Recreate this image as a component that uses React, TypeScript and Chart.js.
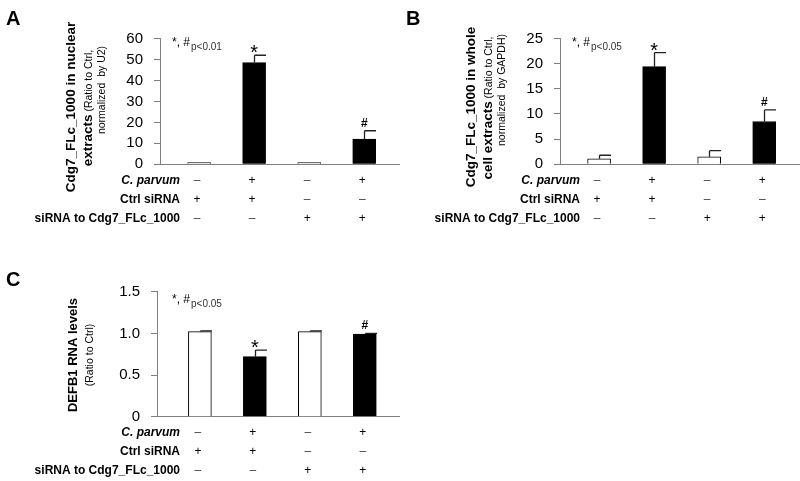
import React, { useEffect, useRef } from 'react';
import { Chart, registerables } from 'chart.js';
Chart.register(...registerables);

// ---------- data ----------
const groups = [1, 2, 3, 4];
const rowLabels = ['C. parvum', 'Ctrl siRNA', 'siRNA to Cdg7_FLc_1000'];
const cParvum = ['–', '+', '–', '+'];
const ctrlSiRNA = ['+', '+', '–', '–'];
const siRNACdg7 = ['–', '–', '+', '+'];
const filled = [false, true, false, true];
const sigMarks = ['', '*', '', '#'];

const nuclearMeans = [0.8, 48.5, 0.8, 12];
const nuclearErr = [0, 3.5, 0, 4];
const nuclearTicks = { max: 60, step: 10 };

const wholeMeans = [1.1, 19.4, 1.5, 8.5];
const wholeErr = [0.7, 2.8, 1.2, 2.3];
const wholeTicks = { max: 25, step: 5 };

const defb1Means = [1.02, 0.72, 1.02, 0.99];
const defb1Err = [0.01, 0.08, 0.01, 0.01];
const defb1Ticks = { max: 1.5, step: 0.5 };

const FONT = '"Liberation Sans", Arial, Helvetica, sans-serif';
const AXIS = '#7f7f7f';

type Part = { text: string; font: string };
type Panel = {
  letter: string;
  means: number[];
  errs: number[];
  ticks: { max: number; step: number };
  tickFmt: (v: number) => string;
  p: string;
  titleLines: { cx: number; parts: Part[] }[];
  titleCy: number[];
  padTop: number;
  axisBottomH: number;
  yWidth: number;
  xMin: number;
  xMax: number;
  canvasH: number;
  annotY: number;
  letterY: number;
};

const bold = (s: number) => `bold ${s}px ${FONT}`;
const reg = (s: number) => `${s}px ${FONT}`;

function drawRotated(ctx: CanvasRenderingContext2D, cx: number, cy: number, parts: Part[]) {
  ctx.save();
  ctx.translate(cx, cy);
  ctx.rotate(-Math.PI / 2);
  ctx.textBaseline = 'alphabetic';
  ctx.textAlign = 'left';
  let total = 0;
  const widths = parts.map((p) => {
    ctx.font = p.font;
    const w = ctx.measureText(p.text).width;
    total += w;
    return w;
  });
  let x = -total / 2;
  parts.forEach((p, i) => {
    ctx.font = p.font;
    ctx.fillStyle = '#000';
    ctx.fillText(p.text, x, 0);
    x += widths[i];
  });
  ctx.restore();
}

function makeOverlay(panel: Panel) {
  return {
    id: 'overlay' + panel.letter,
    afterDraw(chart: any) {
      const ctx: CanvasRenderingContext2D = chart.ctx;
      const xs = chart.scales.x;
      const ys = chart.scales.y;
      ctx.save();
      // error bars
      ctx.strokeStyle = '#222';
      ctx.lineWidth = 1.3;
      panel.means.forEach((m, i) => {
        const e = panel.errs[i];
        if (!e) return;
        const x = Math.round(xs.getPixelForValue(groups[i])) + 0.5;
        const y0 = ys.getPixelForValue(m);
        const y1 = ys.getPixelForValue(m + e);
        ctx.beginPath();
        ctx.moveTo(x, y0);
        ctx.lineTo(x, y1);
        ctx.moveTo(x, y1);
        ctx.lineTo(x + 11.5, y1);
        ctx.stroke();
      });
      // significance marks
      ctx.fillStyle = '#000';
      ctx.textAlign = 'center';
      ctx.textBaseline = 'alphabetic';
      sigMarks.forEach((s, i) => {
        if (!s) return;
        const x = xs.getPixelForValue(groups[i]);
        const yt = ys.getPixelForValue(panel.means[i] + panel.errs[i]);
        if (s === '*') {
          ctx.font = reg(20);
          ctx.fillText(s, x, yt + 4);
        } else {
          ctx.font = bold(12);
          ctx.fillText(s, x, yt - 4);
        }
      });
      // p annotation
      ctx.textAlign = 'left';
      ctx.fillStyle = '#000';
      ctx.font = reg(12);
      ctx.fillText('*, #', 172, panel.annotY);
      ctx.font = reg(10);
      ctx.fillStyle = '#333';
      ctx.fillText(panel.p, 191, panel.annotY + 4);
      // table
      const base = chart.chartArea.bottom;
      const rows = [cParvum, ctrlSiRNA, siRNACdg7];
      const rowOff = [16, 35, 54];
      ctx.textBaseline = 'middle';
      rows.forEach((row, r) => {
        const y = base + rowOff[r];
        ctx.textAlign = 'right';
        ctx.fillStyle = '#000';
        ctx.font = r === 0 ? `italic bold 12px ${FONT}` : bold(12);
        ctx.fillText(rowLabels[r], 180, y);
        ctx.textAlign = 'center';
        ctx.font = reg(12);
        row.forEach((sym, i) => {
          ctx.fillStyle = sym === '+' ? '#000' : '#444';
          ctx.fillText(sym, xs.getPixelForValue(groups[i]) - 2, y);
        });
      });
      // titles
      panel.titleLines.forEach((ln, i) => drawRotated(ctx, ln.cx, panel.titleCy[i], ln.parts));
      // panel letter
      ctx.textAlign = 'left';
      ctx.textBaseline = 'alphabetic';
      ctx.fillStyle = '#000';
      ctx.font = bold(20);
      ctx.fillText(panel.letter, 6, panel.letterY);
      ctx.restore();
    },
  };
}

function makeChart(canvas: HTMLCanvasElement, panel: Panel) {
  return new Chart(canvas, {
    type: 'bar',
    data: {
      datasets: [
        {
          data: groups.map((g, i) => ({ x: g, y: panel.means[i] })) as any,
          backgroundColor: filled.map((f) => (f ? '#000' : '#fff')),
          borderColor: '#000',
          borderWidth: 1,
          barThickness: 23,
        },
      ],
    },
    options: {
      responsive: false,
      animation: false,
      layout: { padding: { top: panel.padTop, left: 0, right: 0, bottom: 0 } },
      plugins: { legend: { display: false }, tooltip: { enabled: false } },
      scales: {
        x: {
          type: 'linear',
          offset: false,
          min: panel.xMin,
          max: panel.xMax,
          ticks: { display: false },
          grid: { display: true, drawOnChartArea: false, drawTicks: false, offset: false },
          border: { display: true, color: AXIS, width: 1 },
          afterFit: (s: any) => {
            s.height = panel.axisBottomH;
          },
        },
        y: {
          min: 0,
          max: panel.ticks.max,
          ticks: {
            stepSize: panel.ticks.step,
            autoSkip: false,
            color: '#000',
            padding: 11,
            font: { family: FONT, size: 15 },
            callback: (v: any) => panel.tickFmt(Number(v)),
          },
          grid: { display: true, drawOnChartArea: false, drawTicks: true, tickLength: 6, color: AXIS },
          border: { display: true, color: AXIS, width: 1 },
          afterFit: (s: any) => {
            s.width = panel.yWidth;
          },
        },
      },
    } as any,
    plugins: [makeOverlay(panel)],
  });
}

const intFmt = (v: number) => String(Math.round(v));
const decFmt = (v: number) => (v === 0 ? '0' : v.toFixed(1));

const panelA: Panel = {
  letter: 'A',
  means: nuclearMeans,
  errs: nuclearErr,
  ticks: nuclearTicks,
  tickFmt: intFmt,
  p: 'p<0.01',
  titleLines: [
    { cx: 75, parts: [{ text: 'Cdg7_FLc_1000 in nuclear', font: bold(13.5) }] },
    { cx: 92, parts: [{ text: 'extracts', font: bold(13.5) }, { text: ' (Ratio to Ctrl,', font: reg(10.5) }] },
    { cx: 105, parts: [{ text: 'normalized  by U2)', font: reg(10.5) }] },
  ],
  titleCy: [107, 108, 90],
  padTop: 38.5,
  axisBottomH: 75.7,
  yWidth: 160,
  xMin: 0.29,
  xMax: 4.65,
  canvasH: 240,
  annotY: 46,
  letterY: 25,
};

const panelB: Panel = {
  letter: 'B',
  means: wholeMeans,
  errs: wholeErr,
  ticks: wholeTicks,
  tickFmt: intFmt,
  p: 'p<0.05',
  titleLines: [
    { cx: 75, parts: [{ text: 'Cdg7_FLc_1000 in whole', font: bold(13.5) }] },
    { cx: 92, parts: [{ text: 'cell extracts', font: bold(13.5) }, { text: ' (Ratio to Ctrl,', font: reg(10.5) }] },
    { cx: 105, parts: [{ text: 'normalized  by GAPDH)', font: reg(10.5) }] },
  ],
  titleCy: [107, 108, 90],
  padTop: 38.5,
  axisBottomH: 75.7,
  yWidth: 160,
  xMin: 0.29,
  xMax: 4.65,
  canvasH: 240,
  annotY: 46,
  letterY: 25,
};

const panelC: Panel = {
  letter: 'C',
  means: defb1Means,
  errs: defb1Err,
  ticks: defb1Ticks,
  tickFmt: decFmt,
  p: 'p<0.05',
  titleLines: [
    { cx: 77, parts: [{ text: 'DEFB1 RNA levels', font: bold(13) }] },
    { cx: 93, parts: [{ text: '(Ratio to Ctrl)', font: reg(10.5) }] },
  ],
  titleCy: [115, 115],
  padTop: 51.7,
  axisBottomH: 64.3,
  yWidth: 157,
  xMin: 0.22,
  xMax: 4.64,
  canvasH: 241,
  annotY: 63,
  letterY: 46,
};

export default function App() {
  const refA = useRef<HTMLCanvasElement>(null);
  const refB = useRef<HTMLCanvasElement>(null);
  const refC = useRef<HTMLCanvasElement>(null);
  useEffect(() => {
    const charts = [
      makeChart(refA.current!, panelA),
      makeChart(refB.current!, panelB),
      makeChart(refC.current!, panelC),
    ];
    return () => charts.forEach((c) => c.destroy());
  }, []);
  return (
    <div style={{ position: 'absolute', left: 0, top: 0, width: 800, height: 481, background: '#fff' }}>
      <canvas ref={refA} width={400} height={240} style={{ position: 'absolute', left: 0, top: 0 }} />
      <canvas ref={refB} width={400} height={240} style={{ position: 'absolute', left: 400, top: 0 }} />
      <canvas ref={refC} width={400} height={241} style={{ position: 'absolute', left: 0, top: 240 }} />
    </div>
  );
}
